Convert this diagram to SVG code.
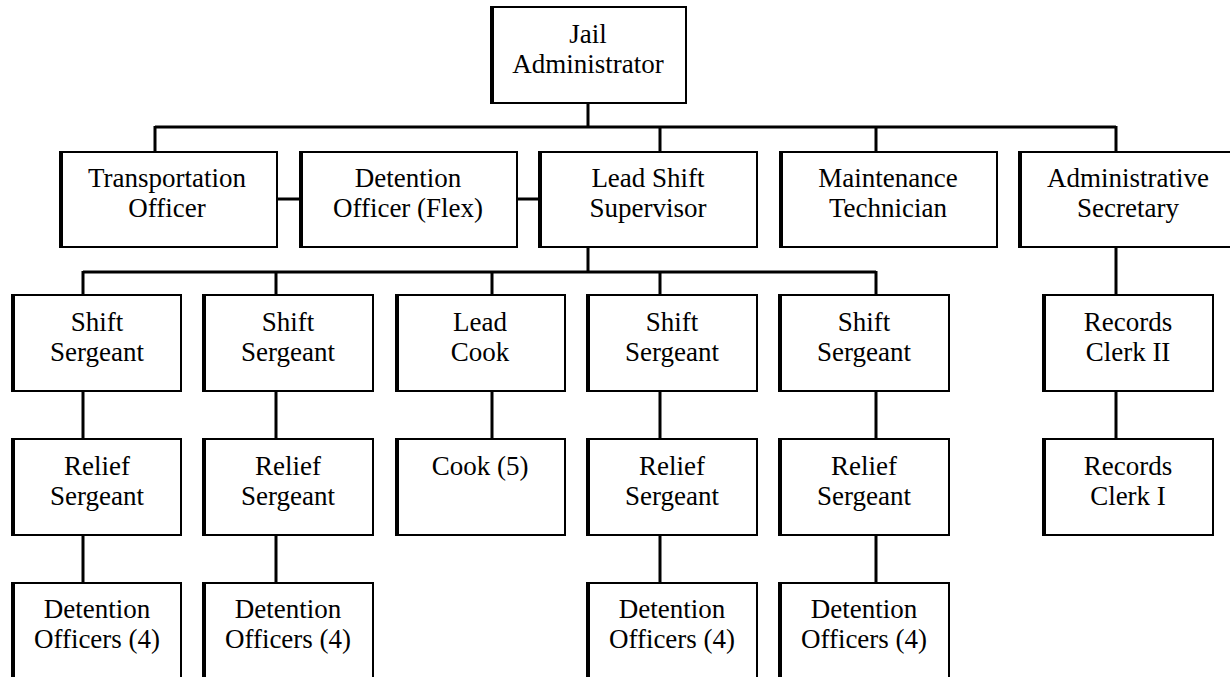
<svg xmlns="http://www.w3.org/2000/svg" width="1230" height="677" viewBox="0 0 1230 677">
<style>
.box{fill:#fff;stroke:#000;stroke-width:2}
.lb{stroke:#000;stroke-width:4;fill:none}
.c{stroke:#000;stroke-width:3;fill:none}
text{font-family:"Liberation Serif","Times New Roman",serif;font-size:27px;fill:#000;text-anchor:middle}
</style>
<rect width="1230" height="677" fill="#fff"/>
<g id="connectors">
<path class="c" d="M588,103V127M155,127H1116M155,126V152M660,126V152M876,126V152M1116,126V152"/>
<path class="c" d="M277,199H300M517,199H539"/>
<path class="c" d="M588,247V272M83,272H876M83,271V295M276,271V295M492,271V295M660,271V295M876,271V295M1116,247V295"/>
<path class="c" d="M83,391V439M276,391V439M492,391V439M660,391V439M876,391V439M1116,391V439"/>
<path class="c" d="M83,535V583M276,535V583M660,535V583M876,535V583"/>
</g>
<g id="jail"><rect class="box" x="491" y="7" width="195" height="96"/><path class="lb" d="M492,7V104"/><text x="588" y="43">Jail</text><text x="588" y="73">Administrator</text></g>
<g id="transport"><rect class="box" x="60" y="152" width="217" height="95"/><path class="lb" d="M61,152V248"/><text x="167" y="187">Transportation</text><text x="167" y="217">Officer</text></g>
<g id="detflex"><rect class="box" x="300" y="152" width="217" height="95"/><path class="lb" d="M301,152V248"/><text x="408" y="187">Detention</text><text x="408" y="217">Officer (Flex)</text></g>
<g id="leadshift"><rect class="box" x="539" y="152" width="218" height="95"/><path class="lb" d="M540,152V248"/><text x="648" y="187">Lead Shift</text><text x="648" y="217">Supervisor</text></g>
<g id="maint"><rect class="box" x="780" y="152" width="217" height="95"/><path class="lb" d="M781,152V248"/><text x="888" y="187">Maintenance</text><text x="888" y="217">Technician</text></g>
<g id="adminsec"><rect class="box" x="1019" y="152" width="218" height="95"/><path class="lb" d="M1020,152V248"/><text x="1128" y="187">Administrative</text><text x="1128" y="217">Secretary</text></g>
<g id="shift1"><rect class="box" x="12" y="295" width="169" height="96"/><path class="lb" d="M13,295V392"/><text x="97" y="331">Shift</text><text x="97" y="361">Sergeant</text></g>
<g id="shift2"><rect class="box" x="203" y="295" width="170" height="96"/><path class="lb" d="M204,295V392"/><text x="288" y="331">Shift</text><text x="288" y="361">Sergeant</text></g>
<g id="leadcook"><rect class="box" x="396" y="295" width="169" height="96"/><path class="lb" d="M397,295V392"/><text x="480" y="331">Lead</text><text x="480" y="361">Cook</text></g>
<g id="shift3"><rect class="box" x="587" y="295" width="170" height="96"/><path class="lb" d="M588,295V392"/><text x="672" y="331">Shift</text><text x="672" y="361">Sergeant</text></g>
<g id="shift4"><rect class="box" x="779" y="295" width="170" height="96"/><path class="lb" d="M780,295V392"/><text x="864" y="331">Shift</text><text x="864" y="361">Sergeant</text></g>
<g id="records2"><rect class="box" x="1043" y="295" width="170" height="96"/><path class="lb" d="M1044,295V392"/><text x="1128" y="331">Records</text><text x="1128" y="361">Clerk II</text></g>
<g id="relief1"><rect class="box" x="12" y="439" width="169" height="96"/><path class="lb" d="M13,439V536"/><text x="97" y="475">Relief</text><text x="97" y="505">Sergeant</text></g>
<g id="relief2"><rect class="box" x="203" y="439" width="170" height="96"/><path class="lb" d="M204,439V536"/><text x="288" y="475">Relief</text><text x="288" y="505">Sergeant</text></g>
<g id="cook"><rect class="box" x="396" y="439" width="169" height="96"/><path class="lb" d="M397,439V536"/><text x="480" y="475">Cook (5)</text></g>
<g id="relief3"><rect class="box" x="587" y="439" width="170" height="96"/><path class="lb" d="M588,439V536"/><text x="672" y="475">Relief</text><text x="672" y="505">Sergeant</text></g>
<g id="relief4"><rect class="box" x="779" y="439" width="170" height="96"/><path class="lb" d="M780,439V536"/><text x="864" y="475">Relief</text><text x="864" y="505">Sergeant</text></g>
<g id="records1"><rect class="box" x="1043" y="439" width="170" height="96"/><path class="lb" d="M1044,439V536"/><text x="1128" y="475">Records</text><text x="1128" y="505">Clerk I</text></g>
<g id="det1"><rect class="box" x="12" y="583" width="169" height="110"/><path class="lb" d="M13,583V694"/><text x="97" y="618">Detention</text><text x="97" y="648">Officers (4)</text></g>
<g id="det2"><rect class="box" x="203" y="583" width="170" height="110"/><path class="lb" d="M204,583V694"/><text x="288" y="618">Detention</text><text x="288" y="648">Officers (4)</text></g>
<g id="det3"><rect class="box" x="587" y="583" width="170" height="110"/><path class="lb" d="M588,583V694"/><text x="672" y="618">Detention</text><text x="672" y="648">Officers (4)</text></g>
<g id="det4"><rect class="box" x="779" y="583" width="170" height="110"/><path class="lb" d="M780,583V694"/><text x="864" y="618">Detention</text><text x="864" y="648">Officers (4)</text></g>
</svg>
